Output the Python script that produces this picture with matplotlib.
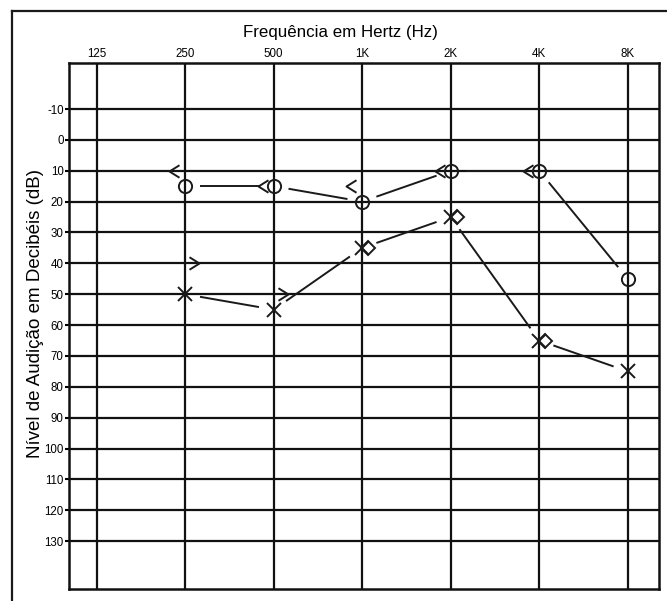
import numpy as np
import matplotlib
matplotlib.use('Agg')
import matplotlib.pyplot as plt
from matplotlib.path import Path
from matplotlib.lines import Line2D
from matplotlib.transforms import offset_copy

plt.rcParams['font.family'] = ['Liberation Sans', 'DejaVu Sans']

# audiogram data
freq_labels = ['125', '250', '500', '1K', '2K', '4K', '8K']
grid_freqs = [125, 250, 500, 1000, 2000, 4000, 8000]
db_ticks = list(range(-10, 140, 10))

air_freqs = [250, 500, 1000, 2000, 4000, 8000]
right_air = [15, 15, 20, 10, 10, 45]      # O
left_air = [50, 55, 35, 25, 65, 75]       # X

masked_freqs = [1000, 2000, 4000]
left_masked = [35, 25, 65]                # diamonds

right_bone_freqs = [250, 500, 1000, 2000, 4000]
right_bone = [10, 15, 15, 10, 10]         # <
left_bone_freqs = [250, 500]
left_bone = [40, 50]                      # >


def octave(f):
    return np.log2(np.asarray(f, dtype=float) / 125.0)


def gapped_line(ax, xs, ys, gap=15, **kw):
    # connect points but leave a gap around each symbol (in pixels)
    pts = ax.transData.transform(np.column_stack([xs, ys]))
    inv = ax.transData.inverted()
    for p0, p1 in zip(pts[:-1], pts[1:]):
        d = p1 - p0
        u = d / np.hypot(*d)
        a = inv.transform(p0 + u * gap)
        b = inv.transform(p1 - u * gap)
        ax.plot([a[0], b[0]], [a[1], b[1]], **kw)


fig = plt.figure(figsize=(6.67, 6.01), dpi=100)
W, H = 667, 601
ax = fig.add_axes([69.3 / W, 1 - 589 / H, (658.7 - 69.3) / W, (589 - 62.7) / H])

ax.set_xlim(-0.31, 6.35)
ax.set_ylim(145.5, -25)

ax.set_xticks(octave(grid_freqs))
ax.set_xticklabels(freq_labels)
ax.set_yticks(db_ticks)
ax.set_yticklabels([str(v) for v in db_ticks])
ax.xaxis.tick_top()
ax.tick_params(axis='x', length=0, pad=2, labelsize=8.3)
ax.tick_params(axis='y', length=3, width=1.5, pad=1, labelsize=8.3, direction='out')
ax.grid(True, color='#111111', linewidth=1.6)
for s in ax.spines.values():
    s.set_linewidth(1.8)
    s.set_color('#111111')

lk = dict(color='#1a1a1a', linewidth=1.4, solid_capstyle='butt')
gapped_line(ax, octave(air_freqs), right_air, **lk)
gapped_line(ax, octave(air_freqs), left_air, **lk)

mk = dict(linestyle='none', color='#1a1a1a', markerfacecolor='none', markeredgewidth=1.4)
ax.plot(octave(air_freqs), right_air, marker='o', markersize=9.5, **mk)
ax.plot(octave(air_freqs), left_air, marker='x', markersize=9.5, **mk)

diamond_tr = offset_copy(ax.transData, fig=fig, x=6, y=0, units='dots')
ax.plot(octave(masked_freqs), left_masked, marker='D', markersize=6.8, transform=diamond_tr, **mk)

lt = Path([(0.8, 1), (-0.8, 0), (0.8, -1)], [Path.MOVETO, Path.LINETO, Path.LINETO])
gt = Path([(-0.8, 1), (0.8, 0), (-0.8, -1)], [Path.MOVETO, Path.LINETO, Path.LINETO])
lt_tr = offset_copy(ax.transData, fig=fig, x=-11, y=0, units='dots')
gt_tr = offset_copy(ax.transData, fig=fig, x=9, y=0, units='dots')
ax.plot(octave(right_bone_freqs), right_bone, marker=lt, markersize=9, transform=lt_tr, **mk)
ax.plot(octave(left_bone_freqs), left_bone, marker=gt, markersize=9, transform=gt_tr, **mk)

fig.text(340 / W, 1 - 33 / H, 'Frequência em Hertz (Hz)', ha='center', va='center', fontsize=12.2)
fig.text(36 / W, 1 - 314 / H, 'Nível de Audição em Decibéis (dB)', ha='center', va='center',
         rotation=90, fontsize=13.5)

# outer frame (cut by the image edges)
fx, fy = 12 / W, 1 - 11 / H
fig.add_artist(Line2D([fx, fx], [0, fy], transform=fig.transFigure, color='#1a1a1a', linewidth=1.6))
fig.add_artist(Line2D([fx, 1], [fy, fy], transform=fig.transFigure, color='#1a1a1a', linewidth=1.6))

fig.savefig('out.png', dpi=100, facecolor='white')
